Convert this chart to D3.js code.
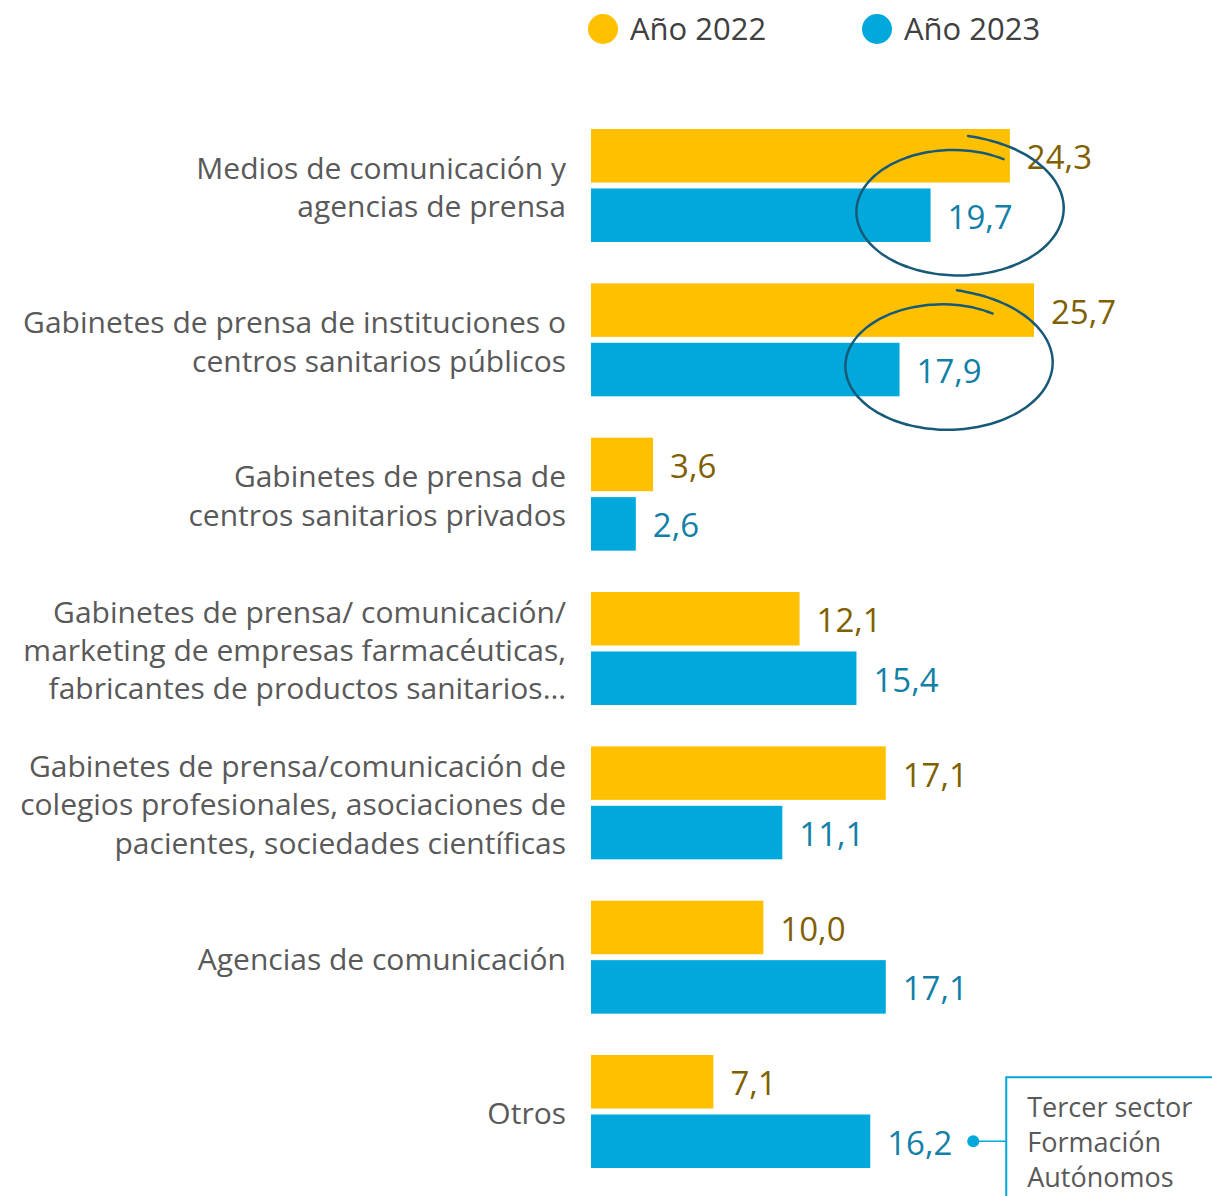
<!DOCTYPE html>
<html>
<head>
<meta charset="utf-8">
<script src="https://cdn.jsdelivr.net/npm/d3@7"></script>
<style>
  body { margin: 0; background: #fff; }
  svg { display: block; font-family: 'Open Sans', sans-serif; }
</style>
</head>
<body>
<script>
const categories = [
  ['Medios de comunicación y', 'agencias de prensa'],
  ['Gabinetes de prensa de instituciones o', 'centros sanitarios públicos'],
  ['Gabinetes de prensa de', 'centros sanitarios privados'],
  ['Gabinetes de prensa/ comunicación/', 'marketing de empresas farmacéuticas,', 'fabricantes de productos sanitarios…'],
  ['Gabinetes de prensa/comunicación de', 'colegios profesionales, asociaciones de', 'pacientes, sociedades científicas'],
  ['Agencias de comunicación'],
  ['Otros']
]
const years = ['Año 2022', 'Año 2023']
const values2022 = [24.3, 25.7, 3.6, 12.1, 17.1, 10.0, 7.1]
const values2023 = [19.7, 17.9, 2.6, 15.4, 11.1, 17.1, 16.2]
const circled = [0, 1]
const otrosNote = ['Tercer sector', 'Formación', 'Autónomos']

const width = 1212
const height = 1196
const colors = ['#FFC000', '#00A8DC']
const labelColors = ['#7F6000', '#127FA8']

const svg = d3.select('body').append('svg')
  .attr('width', width)
  .attr('height', height)

const x = d3.scaleLinear().domain([0, 25.7]).range([591, 1034])

const y = d3.scaleBand()
  .domain(d3.range(categories.length))
  .range([129, 1168])
  .paddingInner(0.268)

const ySub = d3.scaleBand()
  .domain([0, 1])
  .range([0, y.bandwidth()])
  .paddingInner(0.1)

const fmt = v => v.toFixed(1).replace('.', ',')

// legend
const legend = svg.append('g')
legend.selectAll('g')
  .data(years)
  .enter()
  .append('g')
  .attr('transform', (d, i) => `translate(${603 + i * 274},29)`)
  .each(function (d, i) {
    const g = d3.select(this)
    g.append('circle').attr('r', 15).attr('fill', colors[i])
    g.append('text')
      .attr('x', 27)
      .attr('dy', '0.35em')
      .attr('font-size', 31)
      .attr('fill', '#404040')
      .text(d)
  })

const rows = categories.map((c, i) => ({ i, lines: c, vals: [values2022[i], values2023[i]] }))

const group = svg.append('g')
  .selectAll('g')
  .data(rows)
  .enter()
  .append('g')
  .attr('transform', d => `translate(0,${y(d.i)})`)

// category labels
group.append('text')
  .attr('text-anchor', 'end')
  .attr('font-size', 30)
  .attr('fill', '#595959')
  .each(function (d) {
    const n = d.lines.length
    const lh = 38.5
    d3.select(this).selectAll('tspan')
      .data(d.lines)
      .enter()
      .append('tspan')
      .attr('x', 566)
      .attr('y', (l, k) => y.bandwidth() / 2 + 2 + (k - (n - 1) / 2) * lh)
      .attr('dy', '0.35em')
      .text(l => l)
  })

// bars
group.selectAll('rect')
  .data(d => d.vals)
  .enter()
  .append('rect')
  .attr('x', x(0))
  .attr('y', (v, k) => ySub(k))
  .attr('width', v => x(v) - x(0))
  .attr('height', ySub.bandwidth())
  .attr('fill', (v, k) => colors[k])

// value labels
group.selectAll('text.val')
  .data(d => d.vals)
  .enter()
  .append('text')
  .attr('class', 'val')
  .attr('x', v => x(v) + 17)
  .attr('y', (v, k) => ySub(k) + ySub.bandwidth() / 2 + 2)
  .attr('dy', '0.35em')
  .attr('font-size', 33)
  .attr('fill', (v, k) => labelColors[k])
  .text(fmt)

// hand drawn circles round the 2023 labels
const loopShift = [27, 47]
const loop = d3.line().curve(d3.curveBasis)
circled.forEach((i, j) => {
  const cx = x(values2023[i]) + loopShift[j]
  const cy = y(i) + ySub(1) + ySub.bandwidth() / 2 - 4
  const rx = 102
  const ry = 64
  const a0 = -85 * Math.PI / 180
  const a1 = 299 * Math.PI / 180
  const pts = d3.range(0, 1.0001, 0.01).map(p => {
    const a = a0 + (a1 - a0) * p
    const s = 1 + 0.18 * Math.pow(1 - p, 6) - 0.07 * Math.pow(p, 6)
    return [cx + rx * s * Math.cos(a), cy + ry * s * Math.sin(a)]
  })
  svg.append('path')
    .attr('d', loop(pts))
    .attr('fill', 'none')
    .attr('stroke', '#175A78')
    .attr('stroke-width', 2.5)
    .attr('stroke-linecap', 'round')
})

// callout for "Otros"
const last = categories.length - 1
const dotX = x(values2023[last]) + 103
const dotY = y(last) + ySub(1) + ySub.bandwidth() / 2
const boxX = dotX + 33
svg.append('line')
  .attr('x1', dotX).attr('x2', boxX)
  .attr('y1', dotY).attr('y2', dotY)
  .attr('stroke', '#00A8DC')
  .attr('stroke-width', 1.5)
svg.append('circle')
  .attr('cx', dotX).attr('cy', dotY)
  .attr('r', 6)
  .attr('fill', '#00A8DC')
svg.append('rect')
  .attr('x', boxX).attr('y', dotY - 64)
  .attr('width', 300).attr('height', 200)
  .attr('fill', 'none')
  .attr('stroke', '#00A8DC')
  .attr('stroke-width', 2)
svg.append('text')
  .attr('font-size', 27)
  .attr('fill', '#595959')
  .selectAll('tspan')
  .data(otrosNote)
  .enter()
  .append('tspan')
  .attr('x', boxX + 21)
  .attr('y', (d, k) => dotY - 34 + k * 35)
  .attr('dy', '0.35em')
  .text(d => d)
</script>
</body>
</html>
